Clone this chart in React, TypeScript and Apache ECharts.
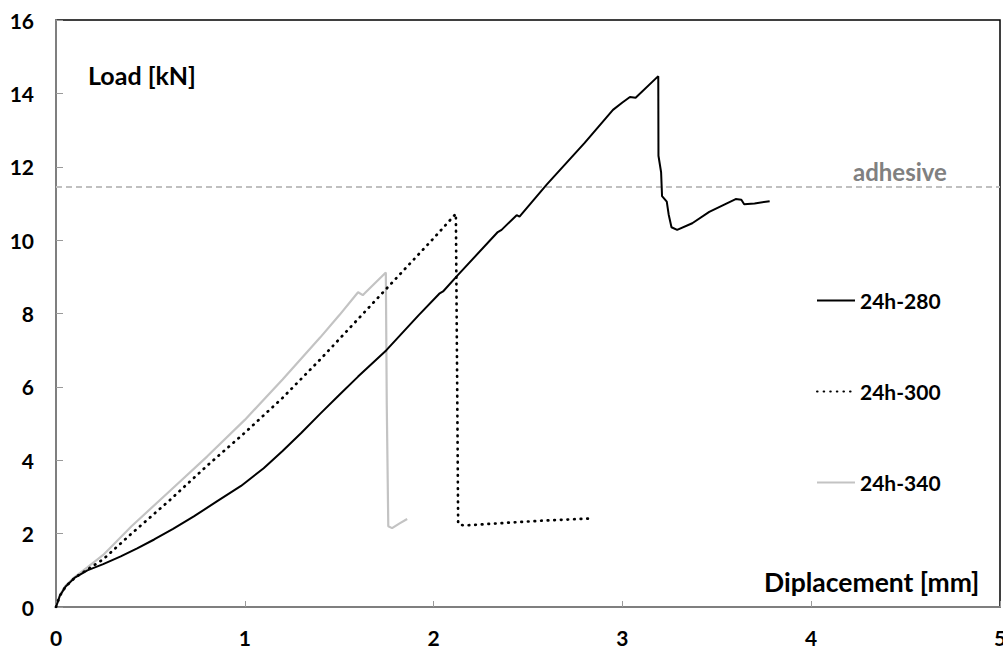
import React, { useEffect, useRef } from "react";
import * as echarts from "echarts";

const xTicks = [0, 1, 2, 3, 4, 5];
const yTicks = [0, 2, 4, 6, 8, 10, 12, 14, 16];

const seriesNames = ["24h-280", "24h-300", "24h-340"];

const disp280 = [0, 0.02, 0.05, 0.1, 0.166, 0.25, 0.343, 0.43, 0.52, 0.62, 0.73, 0.85, 0.98, 1.1, 1.2, 1.3, 1.4, 1.5, 1.6, 1.75, 1.92, 2.03, 2.05, 2.127, 2.34, 2.36, 2.44, 2.455, 2.6, 2.8, 2.95, 3.0, 3.04, 3.07, 3.19, 3.191, 3.205, 3.21, 3.235, 3.245, 3.26, 3.29, 3.37, 3.46, 3.6, 3.63, 3.645, 3.7, 3.78];
const load280 = [0, 0.3, 0.55, 0.8, 1.0, 1.17, 1.38, 1.6, 1.84, 2.13, 2.47, 2.87, 3.3, 3.78, 4.25, 4.75, 5.27, 5.78, 6.28, 7.0, 7.95, 8.54, 8.6, 9.04, 10.22, 10.28, 10.68, 10.64, 11.52, 12.65, 13.55, 13.75, 13.9, 13.88, 14.47, 12.3, 11.85, 11.2, 11.05, 10.7, 10.35, 10.28, 10.46, 10.77, 11.12, 11.1, 10.98, 11.0, 11.06];

const disp300 = [0, 0.02, 0.05, 0.1, 0.166, 0.25, 0.4, 0.6, 0.8, 1.0, 1.2, 1.4, 1.6, 1.8, 2.0, 2.118, 2.125, 2.13, 2.16, 2.4, 2.6, 2.825];
const load300 = [0, 0.3, 0.55, 0.8, 1.02, 1.3, 2.0, 2.9, 3.85, 4.75, 5.7, 6.75, 7.85, 8.95, 10.05, 10.72, 6.0, 2.27, 2.22, 2.3, 2.36, 2.41];

const disp340 = [0, 0.02, 0.05, 0.1, 0.166, 0.25, 0.4, 0.6, 0.8, 1.0, 1.2, 1.4, 1.5, 1.6, 1.625, 1.635, 1.747, 1.752, 1.76, 1.78, 1.82, 1.86];
const load340 = [0, 0.32, 0.58, 0.82, 1.08, 1.42, 2.2, 3.15, 4.1, 5.1, 6.2, 7.35, 7.95, 8.58, 8.5, 8.55, 9.12, 5.5, 2.2, 2.15, 2.28, 2.4];

const adhesiveLevel = 11.45;

const pairs = (xs: number[], ys: number[]) => xs.map((x, i) => [x, ys[i]]);

const FONT = "Lato, 'Open Sans', sans-serif";

export default function App() {
  const ref = useRef<HTMLDivElement>(null);
  useEffect(() => {
    document.body.style.margin = "0";
    if (!ref.current) return;
    const chart = echarts.init(ref.current, null, { renderer: "svg" });
    chart.setOption({
      animation: false,
      backgroundColor: "#fff",
      grid: {
        left: 56,
        right: 3,
        top: 20,
        bottom: 43,
        outerBoundsMode: "none",
        containLabel: false,
        show: true,
        borderColor: "#000",
        borderWidth: 1.5,
        backgroundColor: "transparent",
      },
      legend: {
        orient: "vertical",
        left: 811,
        top: 285,
        itemWidth: 38,
        itemHeight: 20,
        itemGap: 70,
        selectedMode: false,
        data: seriesNames,
        itemStyle: { opacity: 0 },
        textStyle: { fontFamily: FONT, fontWeight: "bold", fontSize: 21, color: "#000", lineHeight: 20 },
      },
      xAxis: {
        type: "value",
        min: xTicks[0],
        max: xTicks[xTicks.length - 1],
        interval: 1,
        axisLine: { show: true, lineStyle: { color: "#7f7f7f", width: 2 } },
        axisTick: { show: true, inside: true, length: 6, lineStyle: { color: "#9a9a9a", width: 1 } },
        splitLine: { show: false },
        axisLabel: {
          margin: 20,
          showMaxLabel: true,
          fontFamily: FONT,
          fontWeight: "bold",
          fontSize: 21,
          color: "#000",
        },
      },
      yAxis: {
        type: "value",
        min: yTicks[0],
        max: yTicks[yTicks.length - 1],
        interval: 2,
        axisLine: { show: true, lineStyle: { color: "#7f7f7f", width: 2 } },
        axisTick: { show: true, inside: true, length: 7, lineStyle: { color: "#9a9a9a", width: 1 } },
        splitLine: { show: false },
        axisLabel: {
          margin: 22,
          fontFamily: FONT,
          fontWeight: "bold",
          fontSize: 21,
          color: "#000",
        },
      },
      graphic: [
        {
          type: "text",
          left: 88,
          top: 62,
          style: { text: "Load [kN]", fontFamily: FONT, fontWeight: "bold", fontSize: 25, fill: "#000" },
        },
        {
          type: "text",
          left: 764,
          top: 568,
          style: { text: "Diplacement [mm]", fontFamily: FONT, fontWeight: "bold", fontSize: 26.5, fill: "#000" },
        },
        {
          type: "text",
          left: 853,
          top: 159,
          style: { text: "adhesive", fontFamily: FONT, fontWeight: "bold", fontSize: 24, fill: "#808080" },
        },
      ],
      series: [
        {
          name: seriesNames[0],
          type: "line",
          symbol: "none",
          data: pairs(disp280, load280),
          lineStyle: { color: "#000", width: 2 },
          itemStyle: { color: "#000" },
          z: 5,
          markLine: {
            silent: true,
            symbol: "none",
            label: { show: false },
            lineStyle: { color: "#c0c0c0", type: [6, 4], width: 2 },
            data: [{ yAxis: adhesiveLevel }],
          },
        },
        {
          name: seriesNames[1],
          type: "line",
          symbol: "none",
          data: pairs(disp300, load300),
          lineStyle: { color: "#000", width: 2.7, type: [0.6, 6], cap: "round" },
          itemStyle: { color: "#000" },
          z: 4,
        },
        {
          name: seriesNames[2],
          type: "line",
          symbol: "none",
          data: pairs(disp340, load340),
          lineStyle: { color: "#c3c3c3", width: 2.2 },
          itemStyle: { color: "#c3c3c3" },
          z: 3,
        },
      ],
    });
    return () => chart.dispose();
  }, []);
  return <div ref={ref} style={{ width: 1003, height: 650 }} />;
}
